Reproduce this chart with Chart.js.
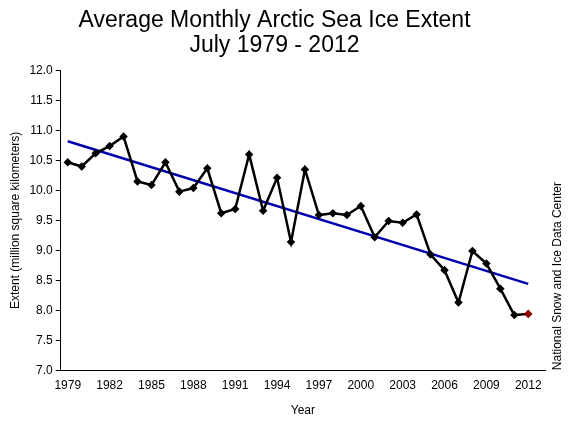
<!DOCTYPE html>
<html>
<head>
<script src="https://cdn.jsdelivr.net/npm/chart.js@4"></script>
<style>
  body { margin: 0; background: #fff; }
  #wrap { width: 570px; height: 426px; }
</style>
</head>
<body>
<div id="wrap"><canvas id="chart"></canvas></div>
<script>
const years = [1979,1980,1981,1982,1983,1984,1985,1986,1987,1988,1989,1990,1991,1992,1993,1994,1995,1996,1997,1998,1999,2000,2001,2002,2003,2004,2005,2006,2007,2008,2009,2010,2011,2012];
const extent = [10.47,10.40,10.62,10.74,10.90,10.15,10.09,10.47,9.98,10.04,10.37,9.62,9.69,10.60,9.66,10.21,9.14,10.35,9.59,9.62,9.59,9.74,9.22,9.49,9.46,9.60,8.93,8.67,8.13,8.99,8.78,8.36,7.92,7.94];
const trendYears = [1979, 2012];
const trendValues = [10.82, 8.44];
const xTicks = [1979,1982,1985,1988,1991,1994,1997,2000,2003,2006,2009,2012];

const font = 'Liberation Sans, Arial, sans-serif';

const sideLabel = {
  id: 'sideLabel',
  afterDraw(chart) {
    const ctx = chart.ctx;
    ctx.save();
    ctx.translate(558, chart.chartArea.bottom);
    ctx.rotate(-Math.PI / 2);
    ctx.font = '12px ' + font;
    ctx.fillStyle = '#000';
    ctx.textBaseline = 'middle';
    ctx.fillText('National Snow and Ice Data Center', 0, 0);
    ctx.restore();
  }
};

new Chart(document.getElementById('chart'), {
  type: 'line',
  data: {
    datasets: [
      {
        label: 'Trend',
        data: trendYears.map((y, i) => ({ x: y, y: trendValues[i] })),
        borderColor: '#0000b0',
        borderWidth: 2.5,
        pointRadius: 0,
        order: 2
      },
      {
        label: 'Extent',
        data: years.map((y, i) => ({ x: y, y: extent[i] })),
        borderColor: '#000',
        borderWidth: 2.5,
        pointStyle: 'rectRot',
        pointRadius: 2.5,
        pointBackgroundColor: years.map((y, i) => i === years.length - 1 ? '#8b0000' : '#000'),
        pointBorderColor: years.map((y, i) => i === years.length - 1 ? '#8b0000' : '#000'),
        tension: 0,
        order: 1
      }
    ]
  },
  options: {
    responsive: true,
    maintainAspectRatio: false,
    animation: false,
    layout: { padding: { left: 4, right: 25, top: 6, bottom: 4 } },
    plugins: {
      legend: { display: false },
      tooltip: { enabled: false },
      title: {
        display: true,
        text: ['Average Monthly Arctic Sea Ice Extent', 'July 1979 - 2012'],
        color: '#000',
        font: { family: font, size: 23, weight: 'normal', lineHeight: 1.1 },
        padding: { top: 2, bottom: 12 }
      }
    },
    scales: {
      x: {
        type: 'linear',
        min: 1978.5,
        max: 2013.2,
        afterBuildTicks: axis => { axis.ticks = xTicks.map(v => ({ value: v })); },
        grid: { display: false, drawOnChartArea: false, drawTicks: true, tickLength: 5, color: '#000' },
        border: { color: '#000', width: 1 },
        ticks: { color: '#000', font: { family: font, size: 12 }, callback: v => String(v), maxRotation: 0 },
        title: { display: true, text: 'Year', color: '#000', font: { family: font, size: 12 }, padding: { top: 8 } }
      },
      y: {
        min: 7,
        max: 12,
        grid: { drawOnChartArea: false, tickLength: 5, color: '#000' },
        border: { color: '#000', width: 1 },
        ticks: { stepSize: 0.5, color: '#000', font: { family: font, size: 12 }, callback: v => v.toFixed(1) },
        title: { display: true, text: 'Extent (million square kilometers)', color: '#000', font: { family: font, size: 12 } }
      }
    }
  },
  plugins: [sideLabel]
});
</script>
</body>
</html>
